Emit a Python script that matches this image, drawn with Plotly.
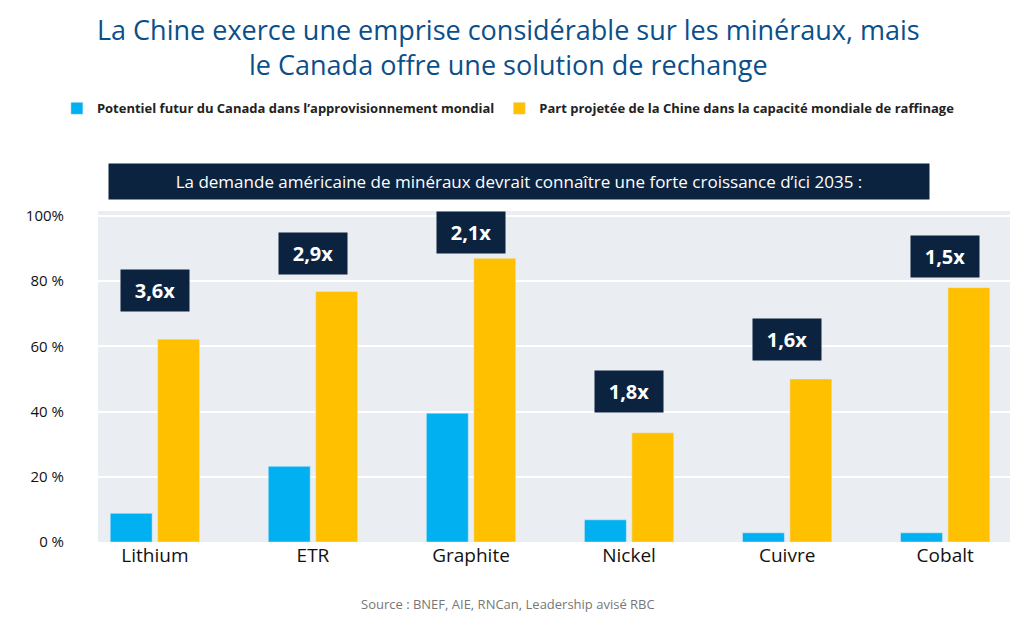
import plotly.graph_objects as go

minerals = ['Lithium', 'ETR', 'Graphite', 'Nickel', 'Cuivre', 'Cobalt']
canada = [8.8, 23.2, 39.5, 6.8, 2.8, 2.8]
china = [62.2, 76.8, 87.0, 33.5, 50.0, 78.0]
growth = ['3,6x', '2,9x', '2,1x', '1,8x', '1,6x', '1,5x']
label_y = [77, 88.5, 95, 46, 62, 87.5]

navy = '#0c2340'
fig = go.Figure()
fig.add_trace(go.Bar(x=minerals, y=canada, name='<b>Potentiel futur du Canada dans l’approvisionnement mondial</b>',
                     marker_color='#00b0f0'))
fig.add_trace(go.Bar(x=minerals, y=china, name='<b>Part projetée de la Chine dans la capacité mondiale de raffinage</b>',
                     marker_color='#ffc000'))

for m, g, y in zip(minerals, growth, label_y):
    fig.add_annotation(x=m, y=y, text='<b>%s</b>' % g, showarrow=False,
                       font=dict(color='white', size=20, family='Open Sans'),
                       bgcolor=navy, borderpad=7, width=54)

fig.add_annotation(xref='paper', yref='paper', x=0.462, y=1.145,
                   text='La demande américaine de minéraux devrait connaître une forte croissance d’ici 2035 :',
                   showarrow=False, font=dict(color='white', size=17, family='Open Sans'),
                   bgcolor=navy, borderpad=6, width=808)
fig.add_annotation(xref='paper', yref='paper', x=0.45, y=1.61, yanchor='top',
                   text='La Chine exerce une emprise considérable sur les minéraux, mais<br>le Canada offre une solution de rechange',
                   showarrow=False, font=dict(size=27, color='#0b4f8a', family='Open Sans'))
fig.add_annotation(xref='paper', yref='paper', x=0.45, y=-0.22,
                   text='Source : BNEF, AIE, RNCan, Leadership avisé RBC', showarrow=False,
                   font=dict(color='#777777', size=13, family='Open Sans'))

fig.update_layout(
    width=1024, height=624,
    margin=dict(l=90, r=22, t=203, b=90),
    paper_bgcolor='white', plot_bgcolor='#eaedf1',
    legend=dict(orientation='h', x=0.45, xanchor='center', y=1.31, yanchor='middle',
                font=dict(size=13, color='#222222', family='Open Sans')),
    barmode='group', bargap=0.4, bargroupgap=0.116,
    font=dict(family='Open Sans'),
)
fig.update_xaxes(range=[-0.36, 5.41], tickfont=dict(size=19, color='#111111'), showline=False)
fig.update_yaxes(range=[0, 101.5], tickvals=[0, 20, 40, 60, 80, 100],
                 ticktext=['0 %', '20 %', '40 %', '60 %', '80 %', '100%'],
                 gridcolor='white', gridwidth=2, zeroline=False,
                 tickfont=dict(size=15, color='#111111'), ticklabelposition='outside',
                 ticks='outside', ticklen=30, tickcolor='rgba(0,0,0,0)')
fig.write_html('out.html')
